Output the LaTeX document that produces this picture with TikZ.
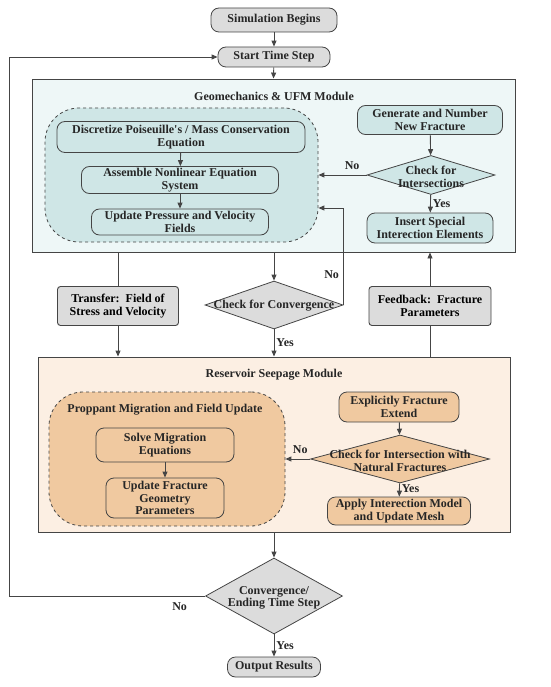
\documentclass[tikz,border=0pt]{standalone}
\usepackage{fontspec}
\setmainfont{Liberation Serif}
\usetikzlibrary{shapes.geometric,arrows.meta}
\definecolor{geofill}{HTML}{EEF7F7}
\definecolor{geoinner}{HTML}{CFE6E6}
\definecolor{resfill}{HTML}{FCEFE3}
\definecolor{resinner}{HTML}{F0C9A0}
\definecolor{grayfill}{HTML}{DCDCDC}
\definecolor{linegray}{HTML}{454545}
\begin{document}
\begin{tikzpicture}[x=1pt,y=-1pt,
  font=\fontsize{12}{12.5}\selectfont\bfseries,
  >={Triangle[length=6pt,width=5pt]},
  line/.style={draw=linegray,line width=0.9pt},
  proc/.style={draw=linegray,line width=0.8pt,rounded corners=8pt,align=center,inner sep=0pt,text=black!85},
  decision/.style={diamond,draw=linegray,line width=0.8pt,inner sep=0pt},
  module/.style={draw=linegray,line width=0.9pt,inner sep=0pt},
  grp/.style={draw=linegray,dashed,line width=0.8pt,rounded corners=34pt,inner sep=0pt},
  txt/.style={align=center,text=black!85,inner sep=0pt}]
\useasboundingbox (0,0) rectangle (550,687);
% top
\node[proc,fill=grayfill,minimum width=126pt,minimum height=24pt] (start) at (274,20) {Simulation Begins};
\node[proc,fill=grayfill,minimum width=112pt,minimum height=20pt] (step) at (274,57) {Start Time Step};
% geomechanics module
\node[module,fill=geofill,minimum width=483pt,minimum height=173pt] (geo) at (273.5,165.5) {};
\node[txt] (geotitle) at (274,96) {Geomechanics \& UFM Module};
\node[grp,fill=geoinner,minimum width=273pt,minimum height=134pt] (geogrp) at (181.5,175) {};
\node[proc,fill=geoinner,minimum width=248pt,minimum height=31pt] (disc) at (181,137) {Discretize Poiseuille\textquotesingle s / Mass Conservation\\Equation};
\node[proc,fill=geoinner,minimum width=197pt,minimum height=27pt] (asm) at (180,180) {Assemble Nonlinear Equation\\System};
\node[proc,fill=geoinner,minimum width=177pt,minimum height=26pt] (upd) at (180,222) {Update Pressure and Velocity\\Fields};
\node[proc,fill=geoinner,minimum width=145pt,minimum height=29pt] (gen) at (430,120) {Generate and Number\\New Fracture};
\node[decision,fill=geoinner,minimum width=128pt,minimum height=39pt] (chkint) at (431,175) {};
\node[txt] (chkinttxt) at (431,177) {Check for\\Intersections};
\node[proc,fill=geoinner,minimum width=126pt,minimum height=30pt] (ins) at (430,228) {Insert Special\\Interection Elements};
% between modules
\node[decision,fill=grayfill,minimum width=138pt,minimum height=48pt] (conv) at (274,305) {};
\node[txt] (convtxt) at (274,306) {Check for Convergence};
\node[module,fill=grayfill,rounded corners=3pt,minimum width=121pt,minimum height=39pt,align=center] (xfer) at (118,306) {Transfer:\ \ Field of\\Stress and Velocity};
\node[module,fill=grayfill,rounded corners=3pt,minimum width=122pt,minimum height=39pt,align=center] (fdbk) at (430,306) {Feedback:\ \ Fracture\\Parameters};
% reservoir module
\node[module,fill=resfill,minimum width=472pt,minimum height=175pt] (res) at (274,444.5) {};
\node[txt] (restitle) at (274,375) {Reservoir Seepage Module};
\node[grp,fill=resinner,minimum width=236pt,minimum height=134pt] (prop) at (167,459) {};
\node[txt] (proptitle) at (165,410) {Proppant Migration and Field Update};
\node[proc,fill=resinner,minimum width=138pt,minimum height=34pt] (solve) at (165,445) {Solve Migration\\Equations};
\node[proc,fill=resinner,minimum width=118pt,minimum height=40pt] (ufg) at (165,498) {Update Fracture\\Geometry\\Parameters};
\node[proc,fill=resinner,minimum width=120pt,minimum height=30pt] (expl) at (399,407) {Explicitly Fracture\\Extend};
\node[decision,fill=resinner,minimum width=179pt,minimum height=48pt] (chknat) at (400,459) {};
\node[txt] (chknattxt) at (400,461) {Check for Intersection with\\Natural Fractures};
\node[proc,fill=resinner,minimum width=143pt,minimum height=28pt] (apply) at (399,511) {Apply Interection Model\\and Update Mesh};
% bottom
\node[decision,fill=grayfill,minimum width=137pt,minimum height=76pt] (endchk) at (274,596) {};
\node[txt] (endchktxt) at (274,598) {Convergence/\\Ending Time Step};
\node[proc,fill=grayfill,minimum width=93pt,minimum height=20pt] (out) at (274,667) {Output Results};
\coordinate (loop) at (9,596);
% connectors
\draw[line,->] (start) -- (step);
\draw[line,->] (step) -- (geo.north);
\draw[line,->] (disc) -- (asm);
\draw[line,->] (asm) -- (upd);
\draw[line,->] (gen) -- (chkint);
\draw[line,->] (chkint) -- node[txt,right=2pt] (yes1) {Yes} (ins);
\draw[line,->] (chkint.west) -- node[txt,above=5pt,pos=0.3] (no1) {No} (chkint.west -| geogrp.east);
\draw[line,->] (geo.south -| conv) -- (conv.north);
\draw[line,->] (conv.east) |- ([yshift=-33pt]geogrp.east) node[txt,pos=0.155,left=4pt] (no2) {No};
\draw[line,->] (conv.south) -- node[txt,right=2pt] (yes2) {Yes} (res.north -| conv);
\draw[line] (geo.south -| xfer) -- (xfer.north);
\draw[line,->] (xfer.south) -- (res.north -| xfer);
\draw[line] (res.north -| fdbk) -- (fdbk.south);
\draw[line,->] (fdbk.north) -- (geo.south -| fdbk);
\draw[line,->] (solve) -- (ufg);
\draw[line,->] (expl) -- (chknat);
\draw[line,->] (chknat) -- node[txt,right=2pt,pos=0.4] (yes3) {Yes} (apply);
\draw[line,->] (chknat.west) -- node[txt,above=5pt,pos=0.4] (no3) {No} (chknat.west -| prop.east);
\draw[line,->] (res.south -| endchk) -- (endchk.north);
\draw[line,->] (endchk.west) -- node[txt,below=6pt,pos=0.13] (no4) {No} (loop) |- (step.west);
\draw[line,->] (endchk.south) -- node[txt,right=2pt] (yes4) {Yes} (out);
\end{tikzpicture}
\end{document}
